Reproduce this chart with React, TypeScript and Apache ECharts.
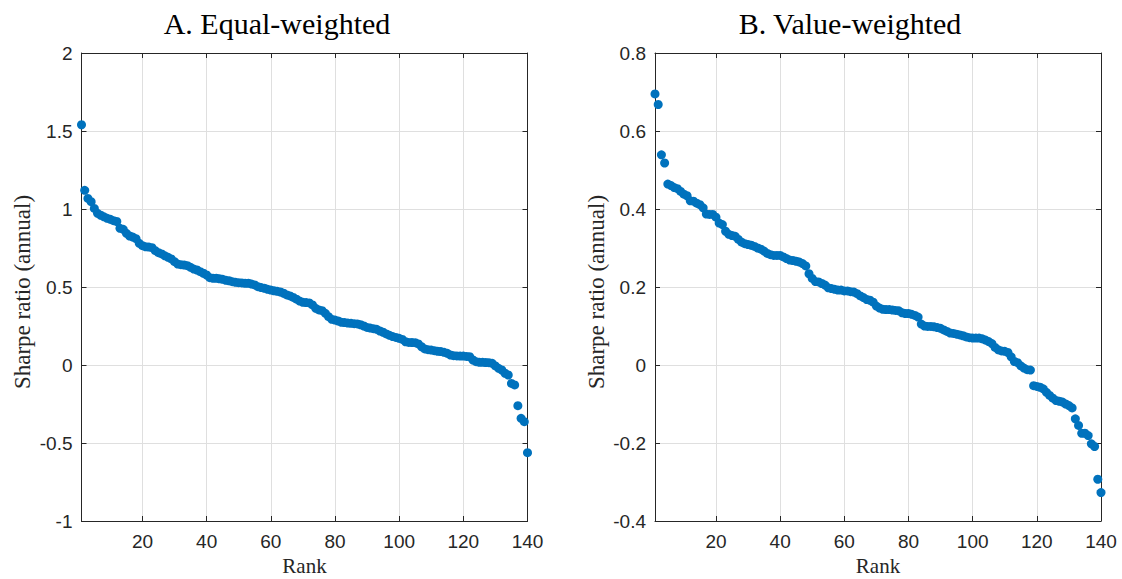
import React, { useEffect, useRef } from "react";
import * as echarts from "echarts";

const equalWeighted = [
  1.54, 1.12, 1.068, 1.047, 1.004, 0.972, 0.96, 0.95, 0.94, 0.934,
  0.925, 0.92, 0.876, 0.87, 0.844, 0.827, 0.82, 0.81, 0.78, 0.765,
  0.758, 0.756, 0.752, 0.733, 0.72, 0.712, 0.7, 0.69, 0.68, 0.662,
  0.647, 0.643, 0.641, 0.637, 0.626, 0.615, 0.609, 0.598, 0.588, 0.577,
  0.56, 0.556, 0.556, 0.553, 0.549, 0.543, 0.54, 0.534, 0.53, 0.528,
  0.526, 0.524, 0.524, 0.519, 0.513, 0.502, 0.496, 0.492, 0.485, 0.48,
  0.476, 0.472, 0.468, 0.46, 0.449, 0.443, 0.433, 0.422, 0.41, 0.402,
  0.4, 0.398, 0.385, 0.363, 0.353, 0.348, 0.331, 0.31, 0.293, 0.288,
  0.282, 0.274, 0.272, 0.269, 0.267, 0.265, 0.263, 0.258, 0.25, 0.241,
  0.237, 0.233, 0.229, 0.218, 0.21, 0.199, 0.19, 0.182, 0.177, 0.171,
  0.164, 0.149, 0.145, 0.144, 0.143, 0.135, 0.117, 0.103, 0.098, 0.096,
  0.092, 0.088, 0.086, 0.081, 0.075, 0.064, 0.06, 0.058, 0.057, 0.057,
  0.055, 0.053, 0.032, 0.021, 0.017, 0.017, 0.016, 0.015, 0.011, -0.006,
  -0.021, -0.032, -0.053, -0.064, -0.118, -0.128, -0.261, -0.342, -0.363, -0.562,
];

const valueWeighted = [
  0.695, 0.668, 0.539, 0.518, 0.464, 0.46, 0.455, 0.452, 0.445, 0.438,
  0.434, 0.421, 0.42, 0.415, 0.411, 0.403, 0.387, 0.386, 0.386, 0.379,
  0.364, 0.36, 0.343, 0.335, 0.332, 0.33, 0.322, 0.315, 0.311, 0.309,
  0.307, 0.304, 0.3, 0.297, 0.292, 0.286, 0.283, 0.281, 0.281, 0.281,
  0.277, 0.273, 0.269, 0.268, 0.266, 0.264, 0.26, 0.254, 0.234, 0.222,
  0.214, 0.213, 0.209, 0.205, 0.198, 0.196, 0.194, 0.192, 0.192, 0.19,
  0.19, 0.188, 0.187, 0.183, 0.177, 0.173, 0.168, 0.166, 0.161, 0.151,
  0.146, 0.143, 0.142, 0.142, 0.141, 0.14, 0.139, 0.134, 0.132, 0.132,
  0.13, 0.127, 0.123, 0.105, 0.1, 0.099, 0.099, 0.098, 0.096, 0.094,
  0.09, 0.086, 0.082, 0.081, 0.079, 0.077, 0.075, 0.072, 0.07, 0.069,
  0.069, 0.069, 0.067, 0.064, 0.06, 0.055, 0.045, 0.039, 0.036, 0.035,
  0.032, 0.021, 0.009, 0.006, -0.002, -0.008, -0.012, -0.013, -0.053, -0.055,
  -0.057, -0.061, -0.07, -0.078, -0.085, -0.091, -0.093, -0.095, -0.1, -0.104,
  -0.11, -0.138, -0.155, -0.175, -0.175, -0.181, -0.202, -0.209, -0.293, -0.327,
];

const panelTitles = ["A. Equal-weighted", "B. Value-weighted"];
const yAxisTitle = "Sharpe ratio (annual)";
const xAxisTitle = "Rank";
const rankRange = [1, 140];
const yRanges = [
  { min: -1, max: 2, interval: 0.5 },
  { min: -0.4, max: 0.8, interval: 0.2 },
];

const AXIS = "#262626";
const GRIDC = "#dfdfdf";
const DOT = "#0072BD";
const SERIF = '"Liberation Serif", "Times New Roman", serif';
const SANS = '"Liberation Sans", Arial, sans-serif';

const gridPos = [
  { left: 81.5, top: 53, width: 446, height: 468 },
  { left: 655, top: 53, width: 446, height: 468 },
];

export default function App() {
  const ref = useRef<HTMLDivElement>(null);
  useEffect(() => {
    if (!ref.current) return;
    const chart = echarts.init(ref.current, null, { renderer: "svg" });
    const seriesData = [equalWeighted, valueWeighted];

    const xAxes: any[] = [];
    const yAxes: any[] = [];
    gridPos.forEach((_, i) => {
      const baseX = {
        gridIndex: i,
        type: "value",
        min: rankRange[0],
        max: rankRange[1],
        splitNumber: 7,
        axisLine: { show: true, onZero: false, lineStyle: { color: AXIS, width: 1 } },
        axisTick: { show: true, inside: true, length: 5, lineStyle: { color: AXIS } },
      };
      xAxes.push({
        ...baseX,
        position: "bottom",
        axisLabel: {
          show: true,
          showMinLabel: false,
          color: AXIS,
          fontFamily: SANS,
          fontSize: 19,
          margin: 11,
        },
        splitLine: { show: true, lineStyle: { color: GRIDC, width: 1 } },
      });
      xAxes.push({
        ...baseX,
        position: "top",
        axisLabel: { show: false },
        splitLine: { show: false },
      });
      const baseY = {
        gridIndex: i,
        type: "value",
        min: yRanges[i].min,
        max: yRanges[i].max,
        interval: yRanges[i].interval,
        axisLine: { show: true, onZero: false, lineStyle: { color: AXIS, width: 1 } },
        axisTick: { show: true, inside: true, length: 5, lineStyle: { color: AXIS } },
      };
      yAxes.push({
        ...baseY,
        position: "left",
        axisLabel: {
          show: true,
          color: AXIS,
          fontFamily: SANS,
          fontSize: 19,
          margin: 9,
          formatter: (v: number) => String(Math.round(v * 100) / 100),
        },
        splitLine: { show: true, lineStyle: { color: GRIDC, width: 1 } },
      });
      yAxes.push({
        ...baseY,
        position: "right",
        axisLabel: { show: false },
        splitLine: { show: false },
      });
    });

    const series = seriesData.map((vals, i) => ({
      type: "scatter",
      xAxisIndex: i * 2,
      yAxisIndex: i * 2,
      symbol: "circle",
      symbolSize: 9,
      clip: false,
      itemStyle: { color: DOT, opacity: 1 },
      data: vals.map((v, k) => [k + 1, v]),
    }));

    const titleCenters = [277, 850];
    const graphic: any[] = [];
    panelTitles.forEach((t, i) => {
      graphic.push({
        type: "text",
        x: titleCenters[i],
        y: 23,
        style: {
          text: t,
          fill: "#000",
          fontFamily: SERIF,
          fontSize: 30,
          align: "center",
          verticalAlign: "middle",
        },
      });
      const g = gridPos[i];
      graphic.push({
        type: "text",
        x: g.left + g.width / 2,
        y: 566,
        style: {
          text: xAxisTitle,
          fill: AXIS,
          fontFamily: SERIF,
          fontSize: 21,
          align: "center",
          verticalAlign: "middle",
        },
      });
      graphic.push({
        type: "text",
        x: g.left - 59,
        y: 292,
        rotation: Math.PI / 2,
        style: {
          text: yAxisTitle,
          fill: AXIS,
          fontFamily: SERIF,
          fontSize: 23,
          align: "center",
          verticalAlign: "middle",
        },
      });
    });

    chart.setOption({
      animation: false,
      backgroundColor: "#ffffff",
      grid: gridPos,
      xAxis: xAxes,
      yAxis: yAxes,
      series,
      graphic,
    });
    return () => chart.dispose();
  }, []);

  return <div ref={ref} style={{ width: 1122, height: 579, position: "absolute", left: 0, top: 0 }} />;
}
